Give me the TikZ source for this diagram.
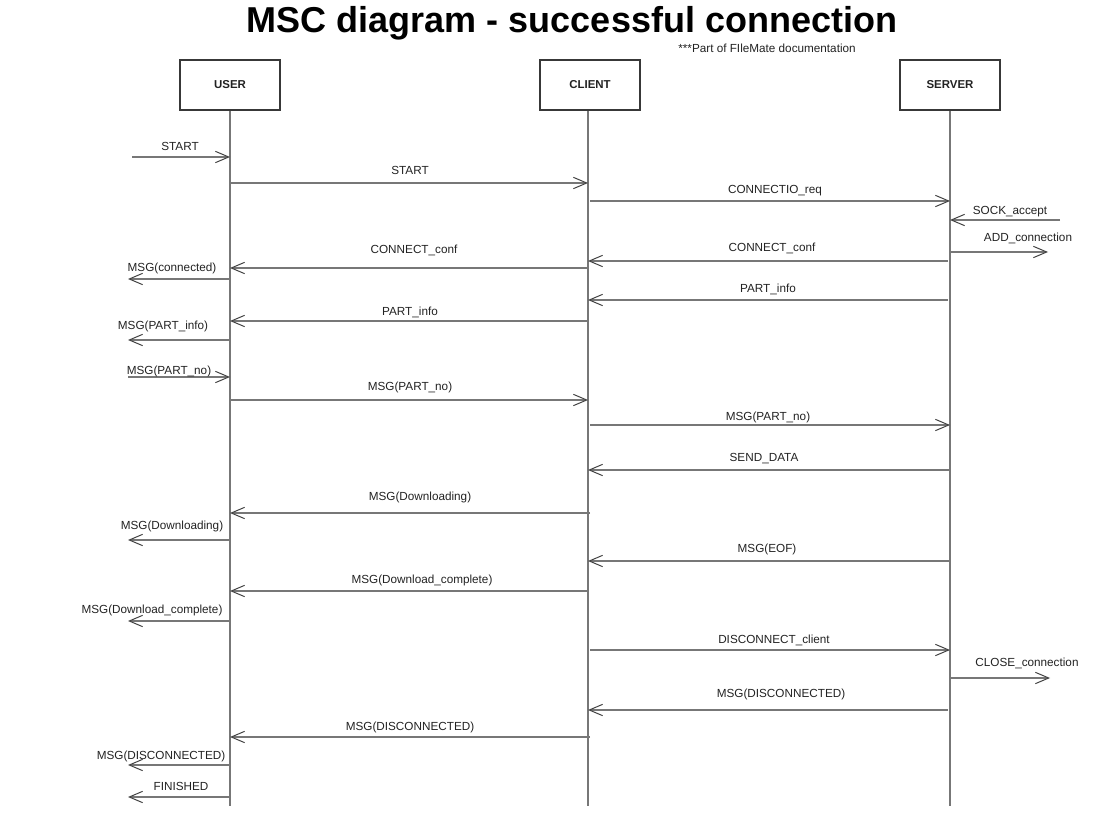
\documentclass[tikz,border=0pt]{standalone}
\usepackage{fontspec}
\setmainfont{Liberation Sans}
\usetikzlibrary{arrows.meta}
\definecolor{lineg}{HTML}{777777}
\definecolor{txt}{HTML}{222222}
\begin{document}
\begin{tikzpicture}[x=0.75pt,y=-0.75pt,
  actor/.style={draw=txt!90,line width=1.5pt,minimum width=75pt,minimum height=37.5pt,inner sep=0pt,font=\fontsize{8.6}{10}\selectfont\bfseries,text=txt},
  life/.style={draw=lineg,line width=1pt},
  msg/.style={draw=lineg,line width=1pt,-{Straight Barb[length=10pt,width=8.5pt,line width=0.75pt,color=txt!85]}},
  lbl/.style={font=\fontsize{8.8}{10}\selectfont,text=txt,inner sep=0pt,text height=0.72em,text depth=0.22em}]
\useasboundingbox (0,0) rectangle (1109,837);
\node[font=\fontsize{27}{30}\selectfont\bfseries,inner sep=0pt] (title) at (572,23) {MSC diagram - successful connection};
\node[lbl] (sub) at (767,49) {***Part of FIleMate documentation};
\node[actor] (user) at (230,85) {USER};
\node[actor] (client) at (590,85) {CLIENT};
\node[actor] (server) at (950,85) {SERVER};
\coordinate (uend) at (230,806);
\coordinate (cend) at (588,806);
\coordinate (send) at (950,806);
\draw[life] (user.south) -- (uend);
\draw[life] (client.south -| cend) -- (cend);
\draw[life] (server.south) -- (send);
\foreach \i/\xa/\xb/\yy/\lx/\ly/\txt in {
  1/132/230/157/180/147.5/START,
  2/230/588/183/410/171.5/START,
  3/590/950/201/775/190.5/CONNECTIO\_req,
  4/1060/950/220/1010/211.5/SOCK\_accept,
  5/950/1048/252/1028/238.5/ADD\_connection,
  6/948/588/261/772/248.5/CONNECT\_conf,
  7/588/230/268/414/250.5/CONNECT\_conf,
  8/230/128/279/172/268.5/MSG(connected),
  9/948/588/300/768/289.5/PART\_info,
  10/588/230/321/410/312.5/PART\_info,
  11/230/128/340/163/326.5/MSG(PART\_info),
  12/128/230/377/169/371.5/MSG(PART\_no),
  13/230/588/400/410/387.5/MSG(PART\_no),
  14/590/950/425/768/417.5/MSG(PART\_no),
  15/950/588/470/764/458.5/SEND\_DATA,
  16/590/230/513/420/497.5/MSG(Downloading),
  17/230/128/540/172/526.5/MSG(Downloading),
  18/950/588/561/767/549.5/MSG(EOF),
  19/588/230/591/422/580.5/MSG(Download\_complete),
  20/230/128/621/152/610.5/MSG(Download\_complete),
  21/590/950/650/774/640.5/DISCONNECT\_client,
  22/950/1050/678/1027/663.5/CLOSE\_connection,
  23/948/588/710/781/694.5/MSG(DISCONNECTED),
  24/590/230/737/410/727.5/MSG(DISCONNECTED),
  25/230/128/765/161/756.5/MSG(DISCONNECTED),
  26/230/128/797/181/787.5/FINISHED}{
  \coordinate (m\i a) at (\xa,\yy);
  \coordinate (m\i b) at (\xb,\yy);
  \draw[msg] (m\i a) -- (m\i b);
  \node[lbl] (l\i) at (\lx,\ly) {\txt};
}
\end{tikzpicture}
\end{document}
